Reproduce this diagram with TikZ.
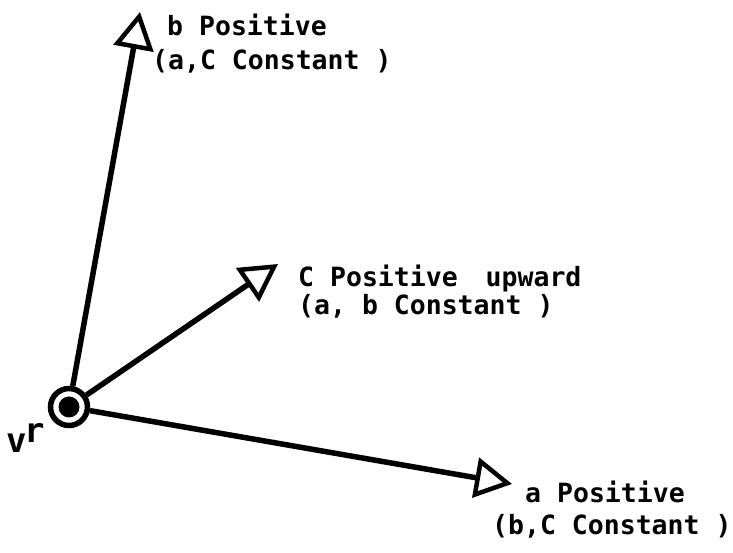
\documentclass[tikz,border=0pt]{standalone}
\usepackage{fontspec}
\setmonofont{DejaVu Sans Mono}
\usetikzlibrary{arrows.meta}
\begin{document}
\begin{tikzpicture}[x=1pt,y=1pt,
  lbl/.style={anchor=base west,inner sep=0pt,font=\fontsize{26.5}{30}\selectfont\ttfamily\bfseries},
  vec/.style={line width=5.5pt,-{Triangle[open,length=37pt,width=40pt,line width=4.5pt]}},
  origin/.style={circle,draw,line width=5.5pt,minimum size=37pt,inner sep=0pt}]
\useasboundingbox (0,0) rectangle (733,553);
\fill[white] (0,0) rectangle (733,553);
% origin
\node[origin] (O) at (69,146) {};
\fill (O.center) circle (10.5pt);
% tips
\coordinate (bt) at (140,541);
\coordinate (ct) at (278,289);
\coordinate (at) at (512,69);
\draw[vec] (O) -- (bt);
\draw[vec] (O) -- (ct);
\draw[vec] (O) -- (at);
% labels
\node[lbl] (b1) at (167,517) {b Positive};
\node[lbl] (b2) at (152,483) {(a,C Constant )};
\node[lbl] (c1) at (298,266) {C Positive\hspace{28pt}upward};
\node[lbl] (c2) at (298,238) {(a, b Constant )};
\node[lbl] (a1) at (525,50) {a Positive};
\node[lbl] (a2) at (492,18) {(b,C Constant )};
\node[lbl,font=\fontsize{34}{36}\selectfont\ttfamily\bfseries] (vr) at (6,100) {v\hspace{-2pt}\raisebox{10pt}{r}};
\end{tikzpicture}
\end{document}
